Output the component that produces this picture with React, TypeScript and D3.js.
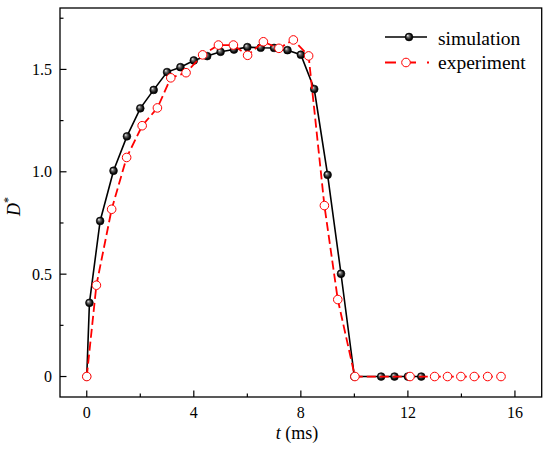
import React from "react";
import * as d3 from "d3";

const simT = [0, 0.1, 0.5, 1, 1.5, 2, 2.5, 3, 3.5, 4, 4.5, 5, 5.5, 6, 6.5, 7, 7.5, 8, 8.5, 9, 9.5, 10, 11, 11.5, 12, 12.5];
const simD = [0, 0.36, 0.76, 1.005, 1.173, 1.31, 1.4, 1.487, 1.511, 1.544, 1.565, 1.586, 1.597, 1.609, 1.606, 1.605, 1.594, 1.572, 1.404, 0.985, 0.502, 0, 0, 0, 0, 0];

const expT = [0, 0.36, 0.93, 1.49, 2.07, 2.64, 3.14, 3.71, 4.33, 4.92, 5.48, 6.01, 6.6, 7.18, 7.72, 8.29, 8.88, 9.38, 10.02, 12.08, 13.0, 13.48, 13.98, 14.48, 14.98, 15.48];
const expD = [0, 0.446, 0.817, 1.07, 1.225, 1.312, 1.459, 1.484, 1.571, 1.619, 1.619, 1.569, 1.635, 1.603, 1.644, 1.566, 0.835, 0.376, 0, 0, 0, 0, 0, 0, 0, 0];

const xMajor = [0, 4, 8, 12, 16];
const xMinor = [2, 6, 10, 14];
const yMajor = [0, 0.5, 1.0, 1.5];
const yMajorLabels = ["0", "0.5", "1.0", "1.5"];
const yMinor = [0.25, 0.75, 1.25, 1.75];

const seriesNames = ["simulation", "experiment"];

const W = 550;
const H = 458;
const L = 60, R = 541.7, T = 8, B = 397;
const FONT = "Liberation Serif, Times New Roman, DejaVu Serif, serif";

export default function App() {
  const x = d3.scaleLinear().domain([-1, 17]).range([L, R]);
  const y = d3.scaleLinear().domain([-0.1, 1.8]).range([B, T]);

  const line = d3
    .line<[number, number]>()
    .x((d) => x(d[0]))
    .y((d) => y(d[1]));

  const simPts: [number, number][] = simT.map((t, i) => [t, simD[i]]);
  const expPts: [number, number][] = expT.map((t, i) => [t, expD[i]]);

  const major = 6.5;
  const minor = 3.5;
  const ts = { fontFamily: FONT };

  return (
    <svg
      width={W}
      height={H}
      style={{ position: "absolute", left: 0, top: 0, background: "#fff", fontFamily: FONT }}
    >
      <defs>
        <radialGradient id="ball" cx="0.5" cy="0.5" r="0.5" fx="0.32" fy="0.3">
          <stop offset="0" stopColor="#f2f2f2" />
          <stop offset="0.35" stopColor="#6a6a6a" />
          <stop offset="0.75" stopColor="#111" />
          <stop offset="1" stopColor="#000" />
        </radialGradient>
      </defs>
      <rect x={0} y={0} width={W} height={H} fill="#fff" />

      {/* frame */}
      <rect x={L} y={T} width={R - L} height={B - T} fill="none" stroke="#000" strokeWidth={1.3} />

      {/* x ticks */}
      {xMajor.map((v) => (
        <g key={"xm" + v}>
          <line x1={x(v)} x2={x(v)} y1={B} y2={B - major} stroke="#000" strokeWidth={1.2} />
          <text x={x(v)} y={418} fontSize={16} textAnchor="middle" style={ts}>
            {v}
          </text>
        </g>
      ))}
      {xMinor.map((v) => (
        <line key={"xn" + v} x1={x(v)} x2={x(v)} y1={B} y2={B - minor} stroke="#000" strokeWidth={1.2} />
      ))}

      {/* y ticks */}
      {yMajor.map((v, i) => (
        <g key={"ym" + v}>
          <line x1={L} x2={L + major} y1={y(v)} y2={y(v)} stroke="#000" strokeWidth={1.2} />
          <text x={52} y={y(v) + 5.5} fontSize={16} textAnchor="end" style={ts}>
            {yMajorLabels[i]}
          </text>
        </g>
      ))}
      {yMinor.map((v) => (
        <line key={"yn" + v} x1={L} x2={L + minor} y1={y(v)} y2={y(v)} stroke="#000" strokeWidth={1.2} />
      ))}

      {/* axis titles */}
      <text x={297} y={439} fontSize={18} textAnchor="middle" style={ts}>
        <tspan fontStyle="italic">t</tspan> (ms)
      </text>
      <text transform="translate(20,216) rotate(-90)" fontSize={18} style={ts}>
        <tspan fontStyle="italic">D</tspan>
        <tspan fontSize={12} dy={-8}>*</tspan>
      </text>

      {/* simulation */}
      <path d={line(simPts) || ""} fill="none" stroke="#000" strokeWidth={1.6} />
      {simPts.map((p, i) => (
        <circle key={"s" + i} cx={x(p[0])} cy={y(p[1])} r={3.9} fill="url(#ball)" stroke="#000" strokeWidth={0.6} />
      ))}

      {/* experiment */}
      <path d={line(expPts) || ""} fill="none" stroke="#ff0000" strokeWidth={1.8} strokeDasharray="9,4" />
      {expPts.map((p, i) => (
        <circle key={"e" + i} cx={x(p[0])} cy={y(p[1])} r={4.3} fill="#fff" stroke="#ff0000" strokeWidth={1} />
      ))}

      {/* legend */}
      <g>
        <line x1={385} x2={427} y1={37} y2={37} stroke="#000" strokeWidth={1.6} />
        <circle cx={409} cy={37} r={3.9} fill="url(#ball)" stroke="#000" strokeWidth={0.6} />
        <text x={438} y={45} fontSize={19.5} style={ts}>
          {seriesNames[0]}
        </text>
        <line x1={385} x2={429} y1={62.5} y2={62.5} stroke="#ff0000" strokeWidth={1.8} strokeDasharray="11,9,11,11,2,10" />
        <circle cx={406} cy={62.5} r={4.3} fill="#fff" stroke="#ff0000" strokeWidth={1} />
        <text x={438} y={68.5} fontSize={19.5} style={ts}>
          {seriesNames[1]}
        </text>
      </g>
    </svg>
  );
}
